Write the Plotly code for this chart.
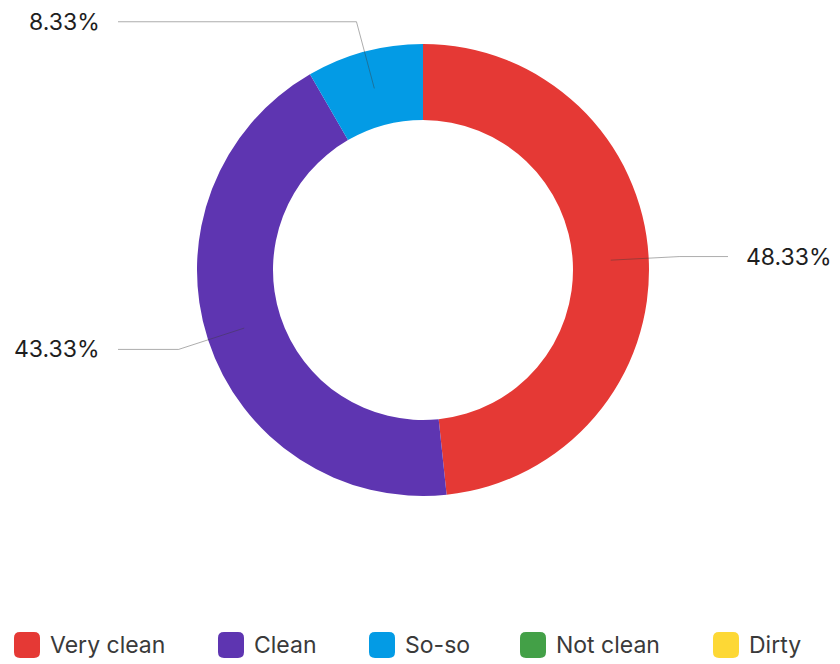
import math
import plotly.graph_objects as go

# Survey answers: how clean was it?
categories = ["Very clean", "Clean", "So-so", "Not clean", "Dirty"]
counts = [29, 26, 5, 0, 0]
colors = ["#E53935", "#5E35B1", "#039BE5", "#43A047", "#FDD835"]

W, H = 840, 664
CX, CY = 423, 270          # pie centre, px from top-left
R_OUT, R_IN = 226, 150     # outer / inner radius, px
FONT = "Inter, Open Sans, sans-serif"

# Legend row layout (px): left edge of each swatch, swatch size, row centre
LEGEND_X = [14, 218, 369, 520, 713]
SWATCH, SWATCH_R, LEGEND_Y = 26, 6, 645

fig = go.Figure(
    go.Pie(
        labels=categories,
        values=counts,
        marker=dict(colors=colors, line=dict(width=0)),
        hole=R_IN / R_OUT,
        sort=False,
        direction="clockwise",
        rotation=0,
        textinfo="none",
        hoverinfo="label+percent",
        showlegend=False,
        domain=dict(
            x=[(CX - R_OUT) / W, (CX + R_OUT) / W],
            y=[1 - (CY + R_OUT) / H, 1 - (CY - R_OUT) / H],
        ),
    )
)


def px(x, y):
    return x / W, 1 - y / H


shapes, annotations = [], []

# Outside percentage labels with elbow leader lines
total = sum(counts)
cum = 0
r_start, r_elbow, x_reach = (R_OUT + R_IN) / 2, 257, 305
for cat, v in zip(categories, counts):
    if v == 0:
        continue
    mid = (cum + v / 2) / total * 2 * math.pi   # clockwise from 12 o'clock
    cum += v
    sx, sy = CX + r_start * math.sin(mid), CY - r_start * math.cos(mid)
    ex, ey = CX + r_elbow * math.sin(mid), CY - r_elbow * math.cos(mid)
    side = 1 if math.sin(mid) >= 0 else -1
    hx = CX + side * x_reach
    pts = [px(sx, sy), px(ex, ey), px(hx, ey)]
    path = "M {} {} L {} {} L {} {}".format(*[c for p in pts for c in p])
    shapes.append(dict(type="path", path=path, xref="paper", yref="paper",
                       line=dict(color="rgba(60,60,60,0.42)", width=1),
                       layer="above"))
    lx, ly = px(hx + side * 16, ey)
    annotations.append(dict(
        x=lx, y=ly, xref="paper", yref="paper", showarrow=False,
        text=f"{v / total * 100:.2f}%",
        xanchor="left" if side > 0 else "right", yanchor="middle",
        font=dict(family=FONT, size=23, color="#1e1e1e"),
    ))


def rounded_square(x0, y0, s, r):
    """SVG path (paper coords) for a square with rounded corners."""
    x1, y1 = x0 + s, y0 + s
    p = [
        ("M", x0 + r, y0), ("L", x1 - r, y0), ("Q", x1, y0, x1, y0 + r),
        ("L", x1, y1 - r), ("Q", x1, y1, x1 - r, y1), ("L", x0 + r, y1),
        ("Q", x0, y1, x0, y1 - r), ("L", x0, y0 + r), ("Q", x0, y0, x0 + r, y0),
    ]
    out = []
    for seg in p:
        cmd, coords = seg[0], seg[1:]
        pts = []
        for i in range(0, len(coords), 2):
            qx, qy = px(coords[i], coords[i + 1])
            pts.append(f"{qx:.5f},{qy:.5f}")
        out.append(cmd + " " + " ".join(pts))
    return " ".join(out) + " Z"


# Legend: rounded colour swatches with category names
for cat, col, x0 in zip(categories, colors, LEGEND_X):
    shapes.append(dict(type="path", xref="paper", yref="paper",
                       path=rounded_square(x0, LEGEND_Y - SWATCH / 2, SWATCH, SWATCH_R),
                       fillcolor=col, line=dict(width=0), layer="above"))
    tx, ty = px(x0 + SWATCH + 8, LEGEND_Y)
    annotations.append(dict(
        x=tx, y=ty, xref="paper", yref="paper", showarrow=False,
        text=cat, xanchor="left", yanchor="middle",
        font=dict(family=FONT, size=23, color="#3a3a3a"),
    ))

fig.update_layout(
    width=W, height=H,
    margin=dict(l=0, r=0, t=0, b=0),
    paper_bgcolor="white",
    plot_bgcolor="white",
    shapes=shapes,
    annotations=annotations,
    showlegend=False,
)

fig.write_html("out.html")
